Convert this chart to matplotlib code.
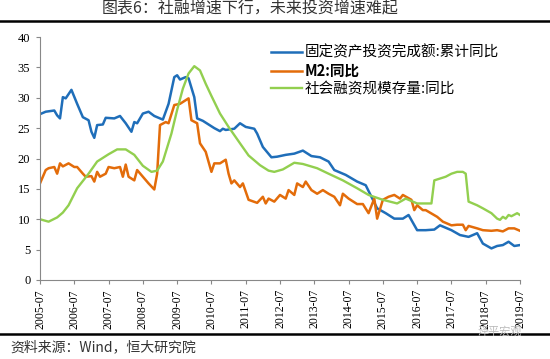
import matplotlib
matplotlib.use("Agg")
import matplotlib.pyplot as plt
import numpy as np

plt.rcParams['font.family'] = ['Noto Sans CJK SC', 'DejaVu Sans']

# months since 2005-07, values in %
tick_labels = [f"{y}-07" for y in range(2005, 2020)]

fai_m = [0, 2, 5, 6, 7, 8, 9, 11, 13, 15, 17, 18, 19, 20, 22, 23, 26, 28, 30, 32,
         33, 34, 36, 38, 40, 43, 45, 47, 48, 49, 51, 52, 54, 55, 57, 59, 61, 63, 64,
         65, 68, 70, 72, 75, 76, 78, 81, 83, 86, 89, 92, 95, 98, 101, 103, 107, 111,
         114, 116, 118, 121, 124, 127, 129, 132, 135, 138, 140, 144, 147, 150, 153,
         155, 158, 160, 162, 164, 166, 168]
fai_v = [27.3, 27.7, 27.9, 27.1, 26.6, 30.1, 29.9, 31.3, 29.0, 26.8, 26.3, 24.4, 23.4,
         25.5, 25.6, 26.7, 26.6, 27.0, 25.8, 24.4, 26.0, 25.8, 27.4, 27.7, 27.0, 26.4,
         29.0, 33.4, 33.7, 33.0, 33.4, 33.2, 30.1, 26.6, 26.2, 25.6, 25.0, 24.5, 24.9,
         24.7, 24.9, 25.8, 25.2, 24.9, 24.1, 21.9, 20.2, 20.3, 20.6, 20.8, 21.3, 20.4,
         20.2, 19.5, 18.1, 17.3, 16.2, 15.6, 13.7, 11.8, 11.0, 10.1, 10.1, 10.7, 8.2,
         8.2, 8.3, 9.0, 8.2, 7.4, 7.1, 7.7, 6.0, 5.2, 5.6, 5.75, 6.3, 5.6, 5.75]

m2_m = [0, 2, 3, 5, 6, 7, 8, 10, 12, 13, 15, 16, 18, 19, 20, 21, 23, 24, 26, 28, 29,
        30, 31, 33, 34, 36, 38, 40, 41, 42, 44, 45, 47, 49, 51, 52, 53, 55, 56, 58, 60,
        61, 63, 65, 66, 67, 68, 70, 71, 73, 76, 78, 79, 80, 82, 84, 86, 87, 89, 90, 92,
        93, 95, 97, 99, 101, 103, 105, 106, 108, 111, 113, 115, 117, 118, 120, 122, 124,
        126, 127, 130, 131, 132, 134, 135, 139, 141, 144, 146, 148, 149, 150, 153, 155,
        158, 160, 162, 164, 166, 168]
m2_v = [15.9, 18.1, 18.4, 18.6, 17.5, 19.2, 18.7, 19.2, 18.6, 18.6, 17.5, 17.0, 17.1,
        16.2, 17.8, 17.0, 17.5, 18.6, 18.4, 18.6, 17.0, 19.0, 17.0, 16.4, 18.1, 17.0,
        15.9, 14.9, 17.5, 25.5, 26.0, 25.8, 28.8, 29.0, 29.6, 29.9, 26.3, 25.8, 22.5,
        21.1, 17.8, 19.2, 19.2, 19.8, 17.5, 15.9, 16.4, 15.3, 15.9, 13.2, 12.7, 13.7,
        12.6, 13.4, 12.9, 14.0, 13.4, 14.8, 14.0, 15.9, 15.3, 16.2, 14.8, 14.2, 14.8,
        14.2, 13.7, 12.3, 14.2, 13.4, 12.5, 12.5, 11.0, 13.4, 10.1, 13.2, 13.7, 14.0,
        13.4, 14.0, 13.2, 11.5, 12.3, 11.5, 11.5, 10.4, 9.6, 9.0, 9.1, 9.1, 8.2, 8.9,
        8.5, 8.2, 8.1, 8.2, 8.0, 8.5, 8.5, 8.1]

tsf_m = [0, 3, 6, 8, 10, 13, 17, 20, 24, 27, 30, 33, 36, 39, 41, 43, 46, 48, 50, 52,
         54, 56, 58, 60, 63, 66, 70, 73, 77, 80, 82, 85, 89, 92, 97, 101, 106, 111,
         115, 120, 125, 128, 132, 137, 138, 142, 144, 146, 148, 149, 150, 153, 155, 158,
         160, 161, 162, 163, 164, 165, 167, 168]
tsf_v = [10.0, 9.6, 10.3, 11.1, 12.3, 15.1, 17.5, 19.5, 20.7, 21.5, 21.5, 20.6, 18.8,
         17.8, 18.0, 19.5, 24.1, 28.0, 31.5, 34.0, 35.2, 34.5, 32.3, 30.3, 27.4, 25.2,
         22.5, 20.5, 18.9, 18.0, 17.8, 18.2, 19.3, 19.1, 18.4, 17.5, 16.4, 15.1, 14.0,
         13.2, 12.6, 13.4, 12.6, 12.6, 16.4, 17.0, 17.5, 17.8, 17.8, 17.5, 12.9, 12.3,
         11.8, 11.0, 10.1, 9.9, 10.4, 10.1, 10.7, 10.5, 11.0, 10.7]

fig = plt.figure(figsize=(5.5, 3.59), dpi=100)
fig.patch.set_facecolor("white")
ax = fig.add_axes([40/550, 79/359, 480/550, 243/359])

ax.plot(fai_m, fai_v, color="#1F6EB9", lw=1.8, label="固定资产投资完成额:累计同比")
ax.plot(m2_m, m2_v, color="#E36C0A", lw=1.8, label="M2:同比")
ax.plot(tsf_m, tsf_v, color="#92CF4F", lw=1.7, label="社会融资规模存量:同比")

ax.set_xlim(0, 168)
ax.set_ylim(0, 40)
ax.set_xticks(np.arange(0, 169, 12))
ax.set_xticklabels(tick_labels, rotation=90, fontsize=8.5, family="Liberation Serif")
ax.set_yticks(np.arange(0, 41, 5))
ax.set_yticklabels([str(v) for v in range(0, 41, 5)], fontsize=9, family="Liberation Serif")
ax.tick_params(axis="both", direction="out", length=3, color="#888888", width=0.8)
ax.tick_params(axis="y", pad=4)
for s in ["top", "right"]:
    ax.spines[s].set_visible(False)
for s in ["left", "bottom"]:
    ax.spines[s].set_color("#888888")
    ax.spines[s].set_linewidth(0.8)

leg = ax.legend(loc="upper left", bbox_to_anchor=(0.47, 0.99), frameon=False,
                fontsize=10.5, handlelength=2.1, handletextpad=0.2, labelspacing=0.22,
                borderaxespad=0)
leg.get_texts()[1].set_fontweight("bold")

fig.text(0.455, 1 - 9/359, "图表6：社融增速下行，未来投资增速难起", ha="center", va="center",
         fontsize=11.5, color="#333333")
fig.add_artist(plt.Line2D([0, 1], [1 - 21/359, 1 - 21/359], color="black", lw=1.8))
fig.add_artist(plt.Line2D([0, 1], [1 - 334/359, 1 - 334/359], color="black", lw=1.8))
fig.text(10/550, 1 - 347/359, "资料来源：Wind，恒大研究院", ha="left", va="center",
         fontsize=10, style="italic", color="#333333")
fig.text(500/550, 1 - 331/359, "泽平宏观", ha="center", va="center",
         fontsize=8, color="#BBBBBB")

fig.savefig("out.png", dpi=100, facecolor="white")
